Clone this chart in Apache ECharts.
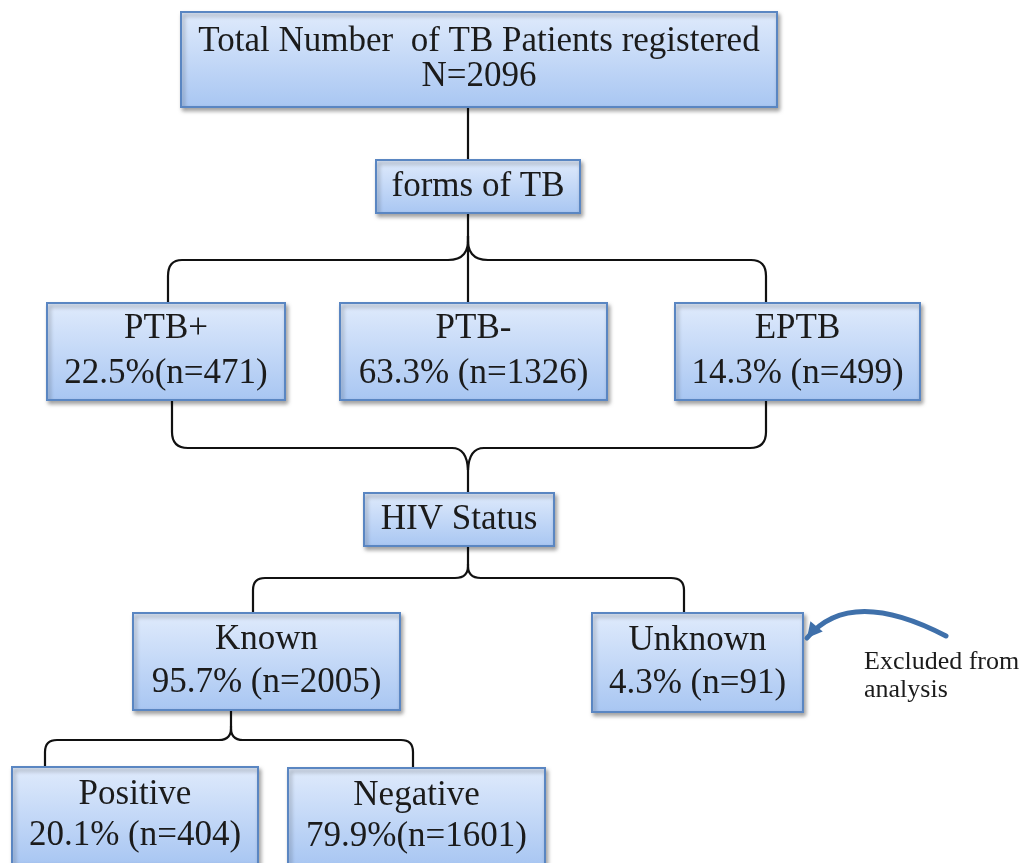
<!DOCTYPE html>
<html>
<head>
<meta charset="utf-8">
<script src="https://cdn.jsdelivr.net/npm/echarts@6/dist/echarts.min.js"></script>
<style>
  html, body { margin: 0; padding: 0; background: #fff; }
  #chart { width: 1025px; height: 863px; }
</style>
</head>
<body>
<div id="chart"></div>
<script>
// flowchart content
const nodeNames = ['Total Number  of TB Patients registered', 'forms of TB', 'PTB+', 'PTB-', 'EPTB', 'HIV Status', 'Known', 'Unknown', 'Positive', 'Negative']
const nodePercents = [null, null, 22.5, 63.3, 14.3, null, 95.7, 4.3, 20.1, 79.9]
const nodeCounts = [2096, null, 471, 1326, 499, null, 2005, 91, 404, 1601]
const tightLabels = ['PTB+', 'Negative'] // no space before "(n=" in the original
const noteLines = ['Excluded from', 'analysis']

// second line of each box
const subLabel = (i) => {
  if (nodeCounts[i] == null) return ''
  if (nodePercents[i] == null) return 'N=' + nodeCounts[i]
  const gap = tightLabels.includes(nodeNames[i]) ? '' : ' '
  return nodePercents[i].toFixed(1) + '%' + gap + '(n=' + nodeCounts[i] + ')'
}

// layout in axis units (page space 1025 x 863), [x0, y0, x1, y1, lineGap]
const boxLayout = [
  [181, 12, 777, 107, 35],
  [376, 160, 580, 213, 0],
  [47, 303, 285, 400, 45],
  [340, 303, 607, 400, 45],
  [675, 303, 920, 400, 45],
  [364, 493, 554, 546, 0],
  [133, 613, 400, 710, 43],
  [592, 613, 803, 712, 43],
  [12, 767, 258, 864, 41],
  [288, 768, 545, 865, 41]
]

// connectors: M/L/Q commands in axis units
const connectorPaths = [
  [['M', 468, 107], ['L', 468, 160]],
  [['M', 468, 213], ['L', 468, 303]],
  [['M', 468, 236], ['Q', 470, 260, 448, 260], ['L', 182, 260], ['Q', 168, 260, 168, 276], ['L', 168, 303]],
  [['M', 468, 236], ['Q', 466, 260, 488, 260], ['L', 751, 260], ['Q', 766, 260, 766, 276], ['L', 766, 303]],
  [['M', 172, 400], ['L', 172, 432], ['Q', 172, 448, 188, 448], ['L', 452, 448], ['Q', 467, 448, 468, 470]],
  [['M', 766, 400], ['L', 766, 432], ['Q', 766, 448, 750, 448], ['L', 484, 448], ['Q', 469, 448, 468, 470]],
  [['M', 468, 462], ['L', 468, 493]],
  [['M', 468, 546], ['L', 468, 564], ['Q', 469, 578, 455, 578], ['L', 265, 578], ['Q', 253, 578, 253, 590], ['L', 253, 613]],
  [['M', 468, 564], ['Q', 467, 578, 481, 578], ['L', 671, 578], ['Q', 684, 578, 684, 590], ['L', 684, 613]],
  [['M', 231, 710], ['L', 231, 726], ['Q', 232, 740, 219, 740], ['L', 57, 740], ['Q', 45, 740, 45, 752], ['L', 45, 767]],
  [['M', 231, 726], ['Q', 230, 740, 243, 740], ['L', 401, 740], ['Q', 413, 740, 413, 752], ['L', 413, 768]]
]

const arrowPath = [['M', 946, 636], ['Q', 850, 586, 807, 638]]
const notePos = [864, 676, 28]

const FONT = '"Liberation Serif", "Times New Roman", serif'

const chart = echarts.init(document.getElementById('chart'))

const toPathData = (cmds, api) => cmds.map(c => {
  const pts = []
  for (let k = 1; k < c.length; k += 2) {
    const p = api.coord([c[k], c[k + 1]])
    pts.push(p[0].toFixed(1), p[1].toFixed(1))
  }
  return c[0] + ' ' + pts.join(' ')
}).join(' ')

const renderBox = (params, api) => {
  const i = api.value(0)
  const b = boxLayout[i]
  const p0 = api.coord([b[0], b[1]])
  const p1 = api.coord([b[2], b[3]])
  const cx = (p0[0] + p1[0]) / 2
  const cy = (p0[1] + p1[1]) / 2
  const sub = subLabel(i)
  const children = [{
    type: 'rect',
    shape: {x: p0[0], y: p0[1], width: p1[0] - p0[0], height: p1[1] - p0[1]},
    style: {
      fill: new echarts.graphic.LinearGradient(0, 0, 0, 1, [
        {offset: 0, color: '#e0ebfc'},
        {offset: 1, color: '#a8c6f2'}
      ]),
      stroke: '#5a86c2',
      lineWidth: 2,
      shadowBlur: 4,
      shadowOffsetX: 2,
      shadowOffsetY: 3,
      shadowColor: 'rgba(0,0,0,0.35)'
    }
  }]
  const lines = sub ? [nodeNames[i], sub] : [nodeNames[i]]
  lines.forEach((t, k) => {
    const y = sub ? cy + (k === 0 ? -b[4] / 2 : b[4] / 2) : cy
    children.push({
      type: 'text',
      style: {
        x: cx, y: y, text: t,
        font: '35px ' + FONT,
        fill: '#1b1b1b',
        align: 'center',
        verticalAlign: 'middle'
      }
    })
  })
  return {type: 'group', children}
}

const renderConnector = (params, api) => ({
  type: 'path',
  shape: {pathData: toPathData(connectorPaths[api.value(0)], api)},
  style: {fill: null, stroke: '#111', lineWidth: 2.2}
})

const renderArrow = (params, api) => {
  const end = api.coord([arrowPath[1][3], arrowPath[1][4]])
  const ctrl = api.coord([arrowPath[1][1], arrowPath[1][2]])
  const ang = Math.atan2(end[1] - ctrl[1], end[0] - ctrl[0])
  const len = 15, wid = 8
  const bx = end[0] - Math.cos(ang) * len
  const by = end[1] - Math.sin(ang) * len
  const nx = -Math.sin(ang), ny = Math.cos(ang)
  return {
    type: 'group',
    children: [{
      type: 'path',
      shape: {pathData: toPathData(arrowPath, api)},
      style: {fill: null, stroke: '#3f70aa', lineWidth: 5, lineCap: 'round'}
    }, {
      type: 'polygon',
      shape: {points: [[end[0], end[1]], [bx + nx * wid, by + ny * wid], [bx - nx * wid, by - ny * wid]]},
      style: {fill: '#3f70aa'}
    }, {
      type: 'text',
      style: {
        x: api.coord([notePos[0], 0])[0],
        y: api.coord([0, notePos[1]])[1],
        text: noteLines.join('\n'),
        font: '26px ' + FONT,
        lineHeight: notePos[2],
        fill: '#1b1b1b',
        align: 'left',
        verticalAlign: 'middle'
      }
    }]
  }
}

const option = {
  animation: false,
  grid: {left: 0, right: 0, top: 0, bottom: 0},
  xAxis: {type: 'value', min: 0, max: 1025, show: false},
  yAxis: {type: 'value', min: 0, max: 863, inverse: true, show: false},
  series: [
    {
      type: 'custom',
      renderItem: renderConnector,
      data: connectorPaths.map((_, i) => [i]),
      clip: false,
      silent: true,
      z: 1
    },
    {
      type: 'custom',
      renderItem: renderBox,
      data: nodeNames.map((_, i) => [i]),
      clip: false,
      silent: true,
      z: 2
    },
    {
      type: 'custom',
      renderItem: renderArrow,
      data: [[0]],
      clip: false,
      silent: true,
      z: 3
    }
  ]
}

chart.setOption(option)
window.addEventListener('resize', () => chart.resize())
</script>
</body>
</html>
